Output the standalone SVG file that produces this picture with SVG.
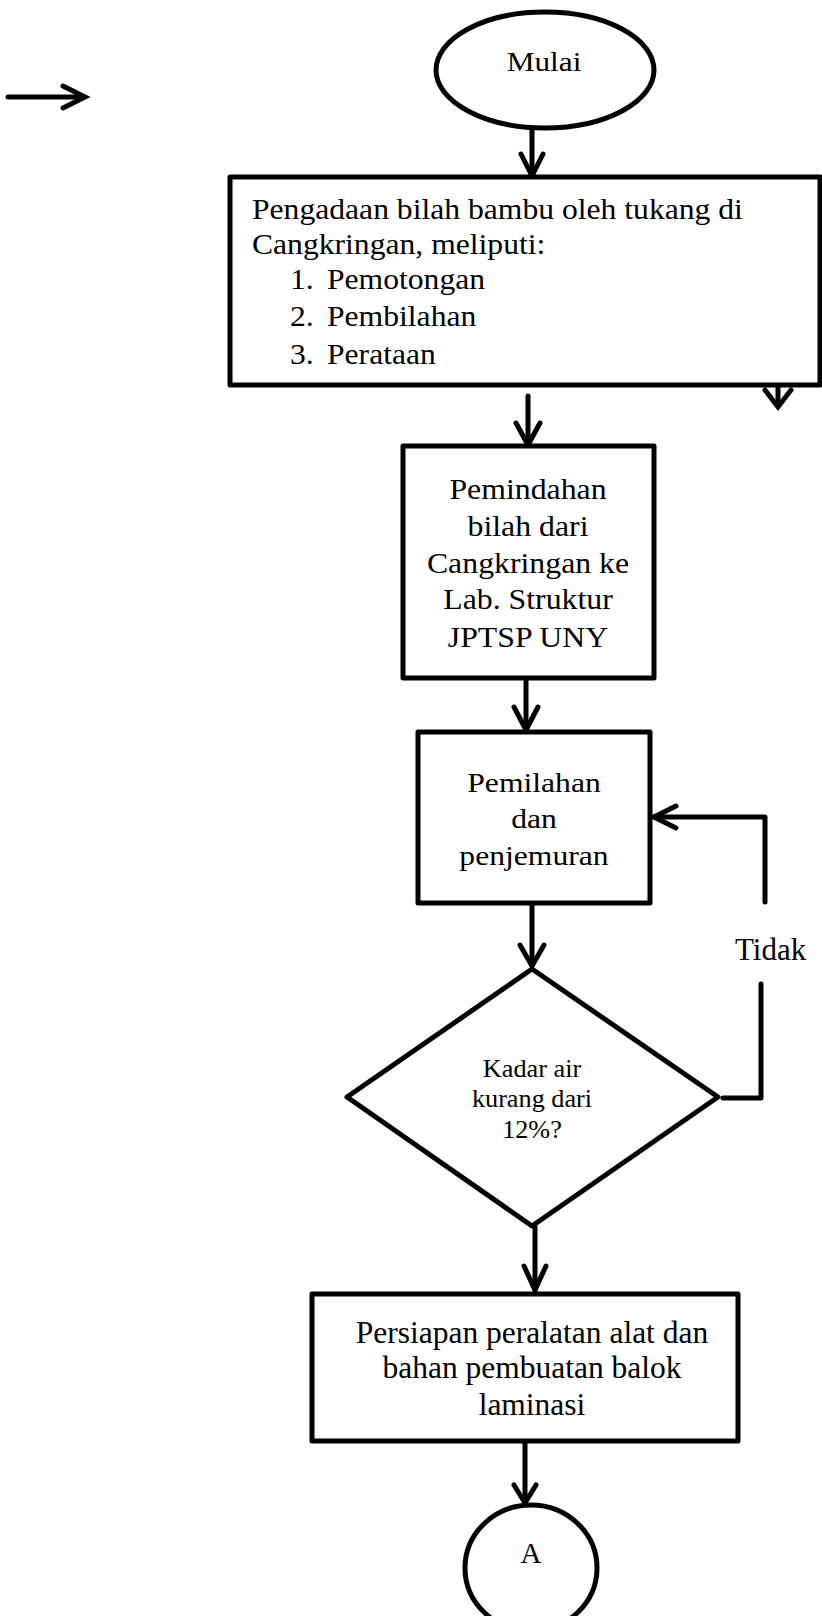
<svg xmlns="http://www.w3.org/2000/svg" width="822" height="1616" viewBox="0 0 822 1616">
<style>
.shape{fill:#fff;stroke:#000;stroke-width:5;stroke-linejoin:round}
.line{fill:none;stroke:#000;stroke-width:5;stroke-linecap:round;stroke-linejoin:round}
.head{fill:none;stroke:#000;stroke-width:5;stroke-linecap:round;stroke-linejoin:miter}
text{font-family:"Liberation Serif","Times New Roman",serif;fill:#000}
.c{text-anchor:middle}
</style>
<rect width="822" height="1616" fill="#fff"/>
<g id="connectors">
  <path class="line" d="M8,97 H84"/>
  <path class="head" d="M63,86 L85,97 L63,108"/>
  <path class="line" d="M532,128 V175"/>
  <path class="head" d="M521,154 L532,176 L543,154"/>
  <path class="line" d="M778,388 V404"/>
  <path class="head" d="M765,390 L778,407 L791,390"/>
  <path class="line" d="M528,396 V444"/>
  <path class="head" d="M516,423 L528,445 L540,423"/>
  <path class="line" d="M526,679 V729"/>
  <path class="head" d="M514,707 L526,730 L538,707"/>
  <path class="line" d="M532,904 V965"/>
  <path class="head" d="M520,945 L532,966 L544,945"/>
  <path class="line" d="M535,1227 V1290"/>
  <path class="head" d="M524,1266 L535,1290 L546,1266"/>
  <path class="line" d="M525,1442 V1502"/>
  <path class="head" d="M514,1485 L525,1503 L536,1485"/>
  <path class="line" d="M723,1098 H761 V984"/>
  <path class="line" d="M765,902 V817 H654"/>
  <path class="head" d="M676,806 L654,817 L676,828"/>
  <text x="735" y="960" font-size="31">Tidak</text>
</g>
<g id="node-mulai">
  <ellipse class="shape" cx="545" cy="70" rx="109" ry="58"/>
  <text class="c" transform="translate(544 71) scale(1.16 1)" font-size="27">Mulai</text>
</g>
<g id="node-pengadaan">
  <rect class="shape" x="230" y="177" width="590" height="208"/>
  <text transform="translate(252 219) scale(1.11 1)" font-size="28.5">Pengadaan bilah bambu oleh tukang di</text>
  <text transform="translate(252 254) scale(1.11 1)" font-size="28.5">Cangkringan, meliputi:</text>
  <text transform="translate(290 289) scale(1.11 1)" font-size="28.5">1.</text>
  <text transform="translate(327 289) scale(1.11 1)" font-size="28.5">Pemotongan</text>
  <text transform="translate(290 326) scale(1.11 1)" font-size="28.5">2.</text>
  <text transform="translate(327 326) scale(1.11 1)" font-size="28.5">Pembilahan</text>
  <text transform="translate(290 364) scale(1.11 1)" font-size="28.5">3.</text>
  <text transform="translate(327 364) scale(1.11 1)" font-size="28.5">Perataan</text>
</g>
<g id="node-pemindahan">
  <rect class="shape" x="403" y="446" width="251" height="232"/>
  <text class="c" transform="translate(528 499) scale(1.06 1)" font-size="30">Pemindahan</text>
  <text class="c" transform="translate(528 536) scale(1.06 1)" font-size="30">bilah dari</text>
  <text class="c" transform="translate(528 573) scale(1.06 1)" font-size="30">Cangkringan ke</text>
  <text class="c" transform="translate(528 609) scale(1.06 1)" font-size="30">Lab. Struktur</text>
  <text class="c" transform="translate(528 647) scale(1.06 1)" font-size="30">JPTSP UNY</text>
</g>
<g id="node-pemilahan">
  <rect class="shape" x="418" y="732" width="232" height="171"/>
  <text class="c" transform="translate(534 792) scale(1.13 1)" font-size="28">Pemilahan</text>
  <text class="c" transform="translate(534 828) scale(1.13 1)" font-size="28">dan</text>
  <text class="c" transform="translate(534 865) scale(1.13 1)" font-size="28">penjemuran</text>
</g>
<g id="node-kadar">
  <polygon class="shape" points="532,969 718,1097 532,1226 347,1097"/>
  <text class="c" transform="translate(532 1077) scale(1.05 1)" font-size="25">Kadar air</text>
  <text class="c" transform="translate(532 1107) scale(1.05 1)" font-size="25">kurang dari</text>
  <text class="c" transform="translate(532 1138) scale(1.05 1)" font-size="25">12%?</text>
</g>
<g id="node-persiapan">
  <rect class="shape" x="312" y="1294" width="426" height="147"/>
  <text class="c" x="532" y="1343" font-size="31.5">Persiapan peralatan alat dan</text>
  <text class="c" x="532" y="1378" font-size="31.5">bahan pembuatan balok</text>
  <text class="c" x="532" y="1415" font-size="31.5">laminasi</text>
</g>
<g id="node-a">
  <ellipse class="shape" cx="531" cy="1568" rx="66" ry="63"/>
  <text class="c" x="531" y="1563" font-size="29">A</text>
</g>
</svg>
